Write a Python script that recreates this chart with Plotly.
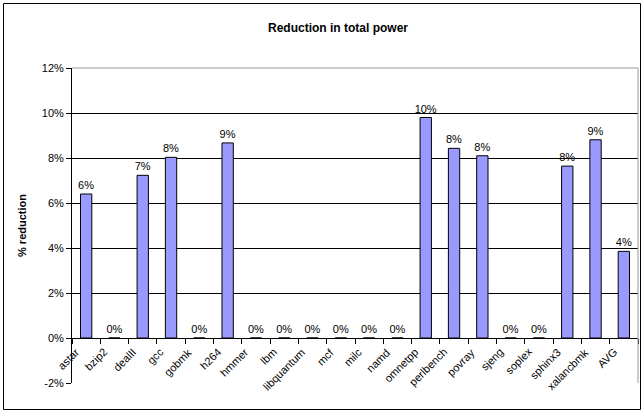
import plotly.graph_objects as go

benchmarks = ["astar", "bzip2", "dealII", "gcc", "gobmk", "h264", "hmmer", "lbm",
              "libquantum", "mcf", "milc", "namd", "omnetpp", "perlbench", "povray",
              "sjeng", "soplex", "sphinx3", "xalancbmk", "AVG"]
reduction_pct = [6.4, 0, 7.23, 8.03, 0, 8.67, 0, 0, 0, 0, 0, 0,
                 9.8, 8.43, 8.1, 0, 0, 7.64, 8.81, 3.85]
y_ticks = [-2, 0, 2, 4, 6, 8, 10, 12]

W, H = 644, 411
L, R, T, B = 72, 6, 68, 28
PH = H - T - B
FONT = "Arial, Liberation Sans, sans-serif"
Y_MIN, Y_MAX = -2, 12
zero_frac = (0 - Y_MIN) / (Y_MAX - Y_MIN)
n = len(benchmarks)

fig = go.Figure(go.Bar(
    x=benchmarks,
    y=reduction_pct,
    marker=dict(color="#9999FF", line=dict(color="black", width=1)),
    width=0.4,
    texttemplate="%{y:.0f}%",
    textposition="outside",
    constraintext="none",
    textfont=dict(family=FONT, size=11, color="black"),
    outsidetextfont=dict(family=FONT, size=11, color="black"),
    cliponaxis=False,
))

# slanted category labels hanging below the zero line (x given as category index)
annotations = [dict(
    text=name, x=i, xref="x", y=zero_frac, yref="paper",
    xanchor="right", yanchor="top", textangle=-45,
    xshift=-2, yshift=-5, showarrow=False,
    font=dict(family=FONT, size=11, color="black"),
) for i, name in enumerate(benchmarks)]

annotations.append(dict(
    text="<b>Reduction in total power</b>",
    xref="paper", yref="paper",
    x=(338 - L) / (W - L - R), y=1 + (T - 28) / PH,
    xanchor="center", yanchor="middle",
    showarrow=False,
    font=dict(family=FONT, size=12, color="black"),
))

fig.update_layout(
    width=W, height=H,
    margin=dict(l=L, r=R, t=T, b=B),
    paper_bgcolor="white",
    plot_bgcolor="white",
    showlegend=False,
    uniformtext=dict(minsize=11, mode="show"),
    font=dict(family=FONT, size=11, color="black"),
    xaxis=dict(
        type="category",
        categoryorder="array",
        categoryarray=benchmarks,
        range=[-0.5, n - 0.5],
        anchor="free",
        position=zero_frac,
        showline=True, linecolor="black", linewidth=1,
        ticks="outside", ticklen=5, tickcolor="black",
        tickson="boundaries",
        showticklabels=False,
        showgrid=False,
    ),
    yaxis=dict(
        range=[Y_MIN, Y_MAX],
        tickvals=y_ticks,
        ticktext=[f"{v}%" for v in y_ticks],
        showline=True, linecolor="black", linewidth=1,
        ticks="outside", ticklen=5, tickcolor="black",
        showgrid=True, gridcolor="black", gridwidth=1,
        zeroline=False,
        tickfont=dict(family=FONT, size=11),
        title=dict(text="<b>% reduction</b>", font=dict(family=FONT, size=11), standoff=12),
    ),
    annotations=annotations,
    shapes=[
        # grey frame on the top and right of the plot area
        dict(type="path", xref="paper", yref="paper",
             path="M 0,1 L 1,1 L 1,0", line=dict(color="#999999", width=1), layer="above"),
        # outer chart border
        dict(type="rect", xref="paper", yref="paper",
             x0=-(L - 3.5) / (W - L - R), x1=1 + (R - 3.5) / (W - L - R),
             y0=-(B - 1.5) / PH, y1=1 + (T - 3.5) / PH,
             line=dict(color="black", width=1)),
    ],
)

fig.write_html("out.html")
